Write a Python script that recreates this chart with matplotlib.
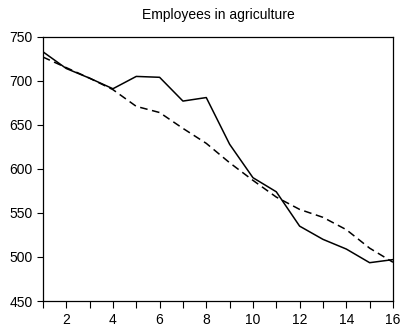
import matplotlib
matplotlib.use("Agg")
import matplotlib.pyplot as plt
from matplotlib.ticker import MultipleLocator

plt.rcParams['font.family'] = ['Liberation Sans', 'DejaVu Sans']

# period index
periods = list(range(1, 17))
# actual series (solid)
actual = [733, 714, 703, 691, 705, 704, 677, 681, 628, 590, 574, 535, 520, 509, 493.5, 497]
# fitted series (dashed)
fitted = [727, 715, 703, 690, 671, 664, 646, 629, 607, 587, 568, 554, 545, 531, 510, 494]

fig = plt.figure(figsize=(4.01, 3.27), dpi=100)
ax = fig.add_axes([0.107, 0.0795, 0.873, 0.808])

ax.plot(periods, actual, color='black', lw=1.1, linestyle='-')
ax.plot(periods, fitted, color='black', lw=1.1, linestyle=(0, (5, 3)))

ax.set_xlim(1, 16)
ax.set_ylim(450, 750)
ax.xaxis.set_major_locator(MultipleLocator(2))
ax.xaxis.set_minor_locator(MultipleLocator(1))
ax.yaxis.set_major_locator(MultipleLocator(50))
ax.tick_params(axis='both', which='both', direction='out', labelsize=10,
               top=False, right=False, width=0.8)
ax.tick_params(axis='x', which='both', length=5)
ax.tick_params(axis='y', length=4)
for s in ax.spines.values():
    s.set_linewidth(0.9)

ax.set_title("Employees in agriculture", fontsize=10, pad=13)

fig.savefig("out.png", dpi=100)
